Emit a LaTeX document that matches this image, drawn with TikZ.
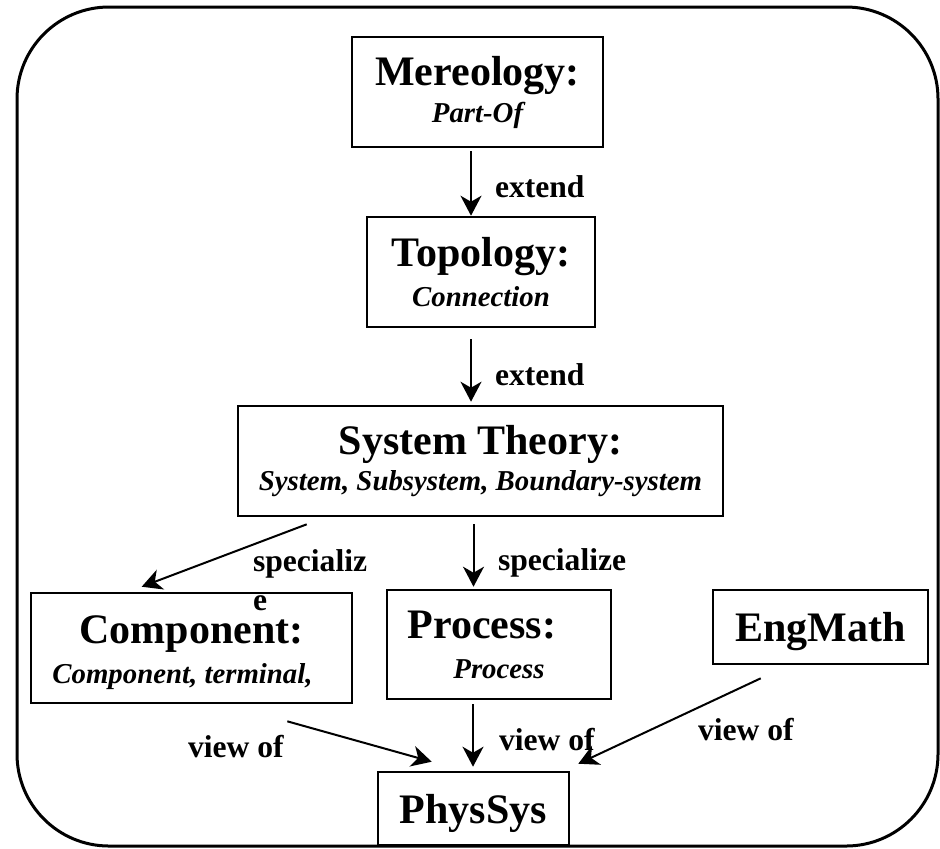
\documentclass[tikz,border=0pt]{standalone}
\usepackage{fontspec}
\setmainfont{Liberation Serif}
\usetikzlibrary{arrows.meta}

\tikzset{
  theory/.style={draw, line width=1.3pt, inner sep=0pt, align=center,
    font=\fontsize{21}{17}\selectfont\bfseries},
  relabel/.style={inner sep=0pt, font=\fontsize{15.8}{19.5}\selectfont\bfseries},
}
\newcommand{\termlist}[1]{{\fontsize{14.4}{17}\selectfont\itshape #1}}

\begin{document}
\begin{tikzpicture}[x=0.5pt, y=-0.5pt, line width=1pt,
    >={Stealth[length=10pt,width=10.5pt,inset=3pt]}]
        \useasboundingbox (0,0) rectangle (940,848);
        % Frame
        \draw[line width=1.5pt, rounded corners=46pt] (17,7) rectangle (938,846);
        % Theories
        \node[theory, minimum width=125.5pt, minimum height=55pt] (mereo) at (477.5,92)
          {Mereology:\\[1.5pt]\termlist{Part-Of}};
        \node[theory, minimum width=114pt, minimum height=55pt] (topo) at (481,272)
          {Topology:\\[3pt]\termlist{Connection}};
        \node[theory, minimum width=242.5pt, minimum height=55pt] (systh) at (480.5,461)
          {System Theory:\\[1pt]\termlist{System, Subsystem, Boundary-system}};
        \node[theory, minimum width=160.5pt, minimum height=55pt] (comp) at (191.5,648)
          {\rule{0pt}{19pt}Component:\\[3pt]\termlist{Component, terminal,}\hspace*{9pt}};
        \node[theory, minimum width=112pt, minimum height=54.5pt] (proc) at (499,644.5)
          {Process:\hspace*{17pt}\\[3pt]\termlist{Process}};
        \node[theory, minimum width=107.5pt, minimum height=37pt, text depth=0pt] (engm) at (820.5,627) {EngMath};
        \node[theory, minimum width=95.5pt, minimum height=36.5pt, text depth=0pt] (phys) at (473.5,808.5) {PhysSys};
        % Extend
        \draw[->, shorten <=1.5pt] ([xshift=-3.25pt]mereo.south) -- ([xshift=-3.25pt]mereo.south |- topo.north)
          node[relabel, anchor=base west] (ext1) at (494,197) {extend};
        \draw[->, shorten <=5.5pt, shorten >=1.5pt] ([xshift=-5pt]topo.south) -- ([xshift=-5pt]topo.south |- systh.north)
          node[relabel, anchor=base west] (ext2) at (494,385) {extend};
        % Specialize
        \draw[->] ([xshift=35pt,yshift=-3.5pt]systh.south west) -- ([xshift=56pt,yshift=2.5pt]comp.north west);
        \node[relabel, anchor=north west, align=left] (spec1) at (252,549) {specializ\\e};
        \draw[->, shorten <=3.5pt, shorten >=1pt] ([xshift=-3.5pt]systh.south) -- ([xshift=-3.5pt]systh.south |- proc.north);
        \node[relabel, anchor=base west] (spec2) at (497,570) {specialize};
        % View of
        \draw[->] ([xshift=-33pt,yshift=-8.5pt]comp.south east) -- ([xshift=27.5pt,yshift=4.5pt]phys.north west);
        \node[relabel, anchor=base west] (view1) at (187,757) {view of};
        \draw[->, shorten <=2pt, shorten >=2pt] ([xshift=-13pt]proc.south) -- ([xshift=-13pt]proc.south |- phys.north);
        \node[relabel, anchor=base west] (view2) at (498,750) {view of};
        \draw[->] ([xshift=24.5pt,yshift=-6.5pt]engm.south west) -- ([xshift=4pt,yshift=3.5pt]phys.north east);
        \node[relabel, anchor=base west] (view3) at (697,740) {view of};
\end{tikzpicture}
\end{document}
